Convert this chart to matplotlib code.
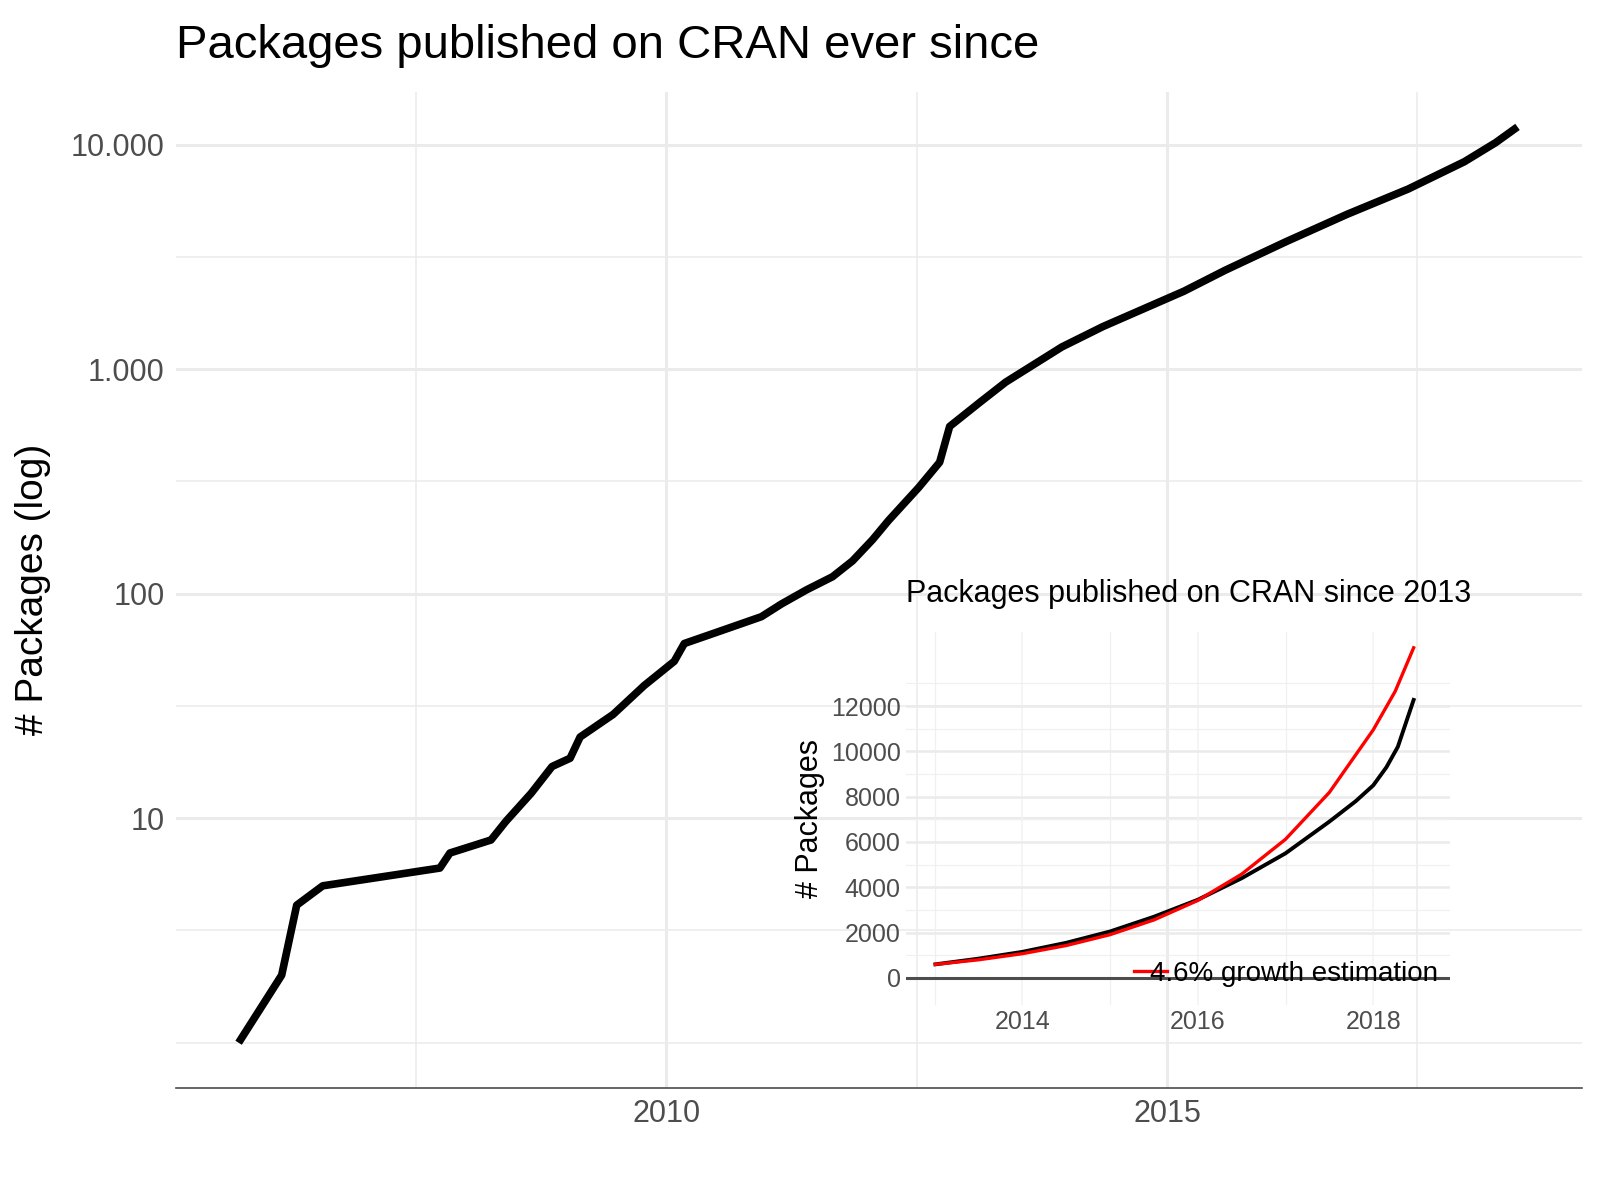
import numpy as np
import matplotlib.pyplot as plt

plt.rcParams['font.family'] = ['Liberation Sans', 'DejaVu Sans']

# main series (decimal year, packages)
years = [2005.73, 2006.16, 2006.31, 2006.57, 2007.74, 2007.84, 2008.25, 2008.40, 2008.65,
         2008.86, 2009.04, 2009.14, 2009.47, 2009.78, 2010.08, 2010.18, 2010.49, 2010.95,
         2011.15, 2011.40, 2011.66, 2011.86, 2012.06, 2012.22, 2012.52, 2012.73, 2012.83,
         2013.13, 2013.39, 2013.95, 2014.36, 2015.17, 2015.58, 2016.19, 2016.80, 2017.41,
         2017.97, 2018.28, 2018.50]
packages = [1, 2.0, 4.1, 5, 6, 7, 8, 9.7, 12.9, 17, 18.5, 23, 29, 39, 50, 60, 67, 79, 90,
            104, 119, 140, 174, 212, 297, 385, 556, 711, 876, 1256, 1548, 2226, 2757, 3700,
            4900, 6350, 8400, 10200, 12000]

# inset series
in_years = [2013.01, 2013.5, 2014.0, 2014.5, 2015.0, 2015.5, 2016.0, 2016.5, 2017.0,
            2017.5, 2017.8, 2018.0, 2018.15, 2018.28, 2018.46]
in_black = [600, 850, 1150, 1550, 2050, 2700, 3450, 4400, 5500, 6900, 7800, 8500, 9300,
            10200, 12270]
est_years = [2013.01, 2013.5, 2014.0, 2014.5, 2015.0, 2015.5, 2016.0, 2016.5, 2017.0,
             2017.5, 2018.0, 2018.25, 2018.46]
est_vals = [600, 800, 1070, 1430, 1910, 2560, 3420, 4580, 6120, 8190, 10950, 12650, 14570]

fig = plt.figure(figsize=(16, 12), dpi=100)
ax = fig.add_axes([0.1097, 0.0935, 0.8788, 0.83])
ax.plot(years, packages, color='black', lw=5.5, solid_capstyle='butt')
ax.set_yscale('log')
ax.set_ylim(0.63, 17200)
ax.set_xlim(2005.1, 2019.14)
ax.set_yticks([10, 100, 1000, 10000])
ax.set_yticklabels(['10', '100', '1.000', '10.000'])
ax.set_yticks([10**k for k in [0, 0.5, 1.5, 2.5, 3.5]], minor=True)
ax.yaxis.set_minor_formatter(plt.NullFormatter())
ax.set_xticks([2010, 2015])
ax.set_xticks([2007.5, 2012.5, 2017.5], minor=True)
ax.grid(True, which='major', color='#ebebeb', lw=2.2)
ax.grid(True, which='minor', color='#ebebeb', lw=1.1)
ax.tick_params(which='both', length=0, labelsize=22, labelcolor='#4d4d4d', pad=8)
for s in ['top', 'right', 'left']:
    ax.spines[s].set_visible(False)
ax.spines['bottom'].set_color('#4d4d4d')
ax.spines['bottom'].set_linewidth(1.2)
ax.set_ylabel('# Packages (log)', fontsize=28, labelpad=14)
ax.set_title('Packages published on CRAN ever since', fontsize=34, loc='left', pad=24)

ins = fig.add_axes([0.566, 0.1624, 0.34, 0.3106])
ins.plot(in_years, in_black, color='black', lw=2.8)
ins.plot(est_years, est_vals, color='red', lw=2.4, label='4.6% growth estimation')
ins.axhline(0, color='#4d4d4d', lw=2.2)
ins.set_xlim(2012.67, 2018.87)
ins.set_ylim(-1200, 15250)
ins.set_yticks(range(0, 12001, 2000))
ins.set_yticks(range(1000, 14001, 2000), minor=True)
ins.set_xticks([2014, 2016, 2018])
ins.set_xticks([2013, 2015, 2017], minor=True)
ins.grid(True, which='major', axis='y', color='#ebebeb', lw=1.8)
ins.grid(True, which='major', axis='x', color='#f3f3f3', lw=1.2)
ins.grid(True, which='minor', color='#f0f0f0', lw=0.9)
ins.tick_params(which='both', length=0, labelsize=18, labelcolor='#4d4d4d')
for s in ins.spines.values():
    s.set_visible(False)
ins.patch.set_alpha(0)
ins.set_ylabel('# Packages', fontsize=22)
ins.set_title('Packages published on CRAN since 2013', fontsize=22, loc='left', pad=22)
ins.legend(loc='lower right', bbox_to_anchor=(1.0, 0.02), frameon=False, fontsize=20,
           handlelength=1.2, handletextpad=-0.6, borderaxespad=0)

fig.savefig('out.png', dpi=100)
